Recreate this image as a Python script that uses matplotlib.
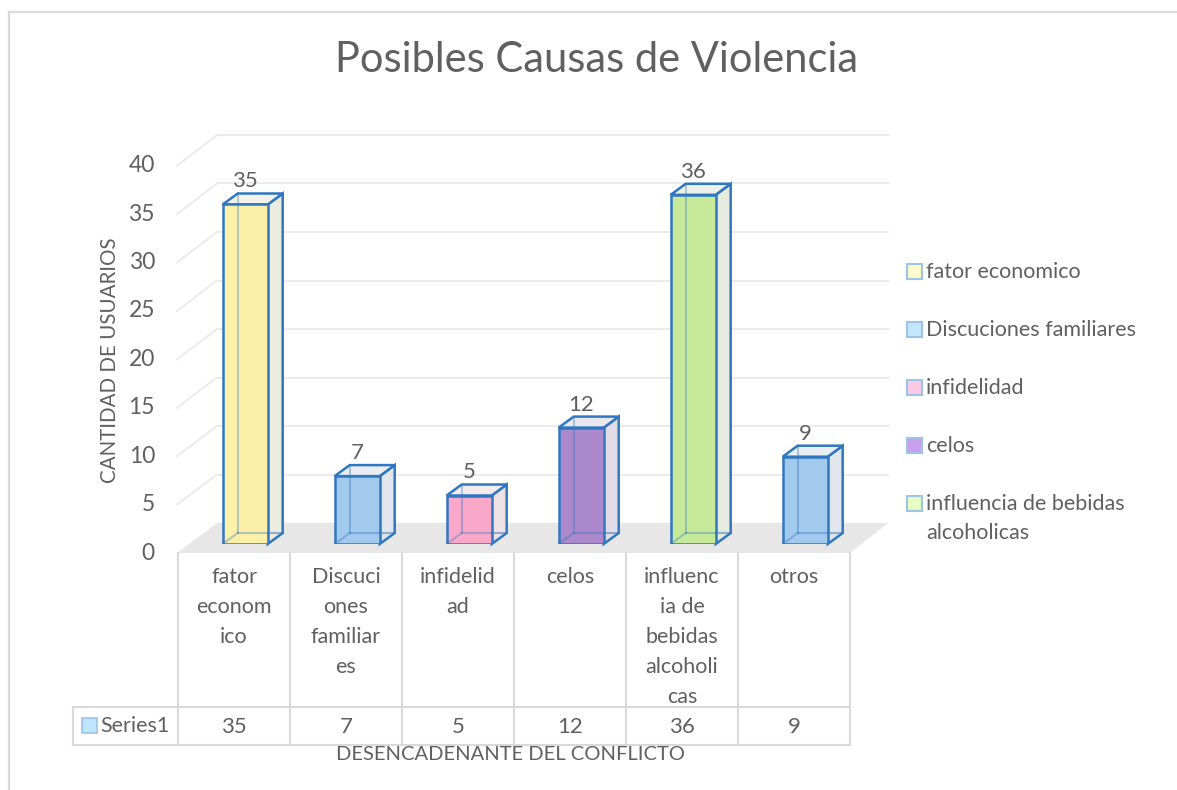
import textwrap
import matplotlib
matplotlib.use('Agg')
import matplotlib.pyplot as plt
import matplotlib.colors as mcolors
from matplotlib.patches import Polygon, Rectangle
from matplotlib.lines import Line2D
from matplotlib.transforms import blended_transform_factory

plt.rcParams['font.family'] = ['Lato', 'DejaVu Sans']

# datos
categorias = ['fator economico', 'Discuciones familiares', 'infidelidad', 'celos',
              'influencia de bebidas alcoholicas', 'otros']
etiquetas_tabla = ['fator\neconom\nico', 'Discuci\nones\nfamiliar\nes', 'infidelid\nad', 'celos',
                   'influenc\nia de\nbebidas\nalcoholi\ncas', 'otros']
valores = [35, 7, 5, 12, 36, 9]
nombre_serie = 'Series1'
yticks = [0, 5, 10, 15, 20, 25, 30, 35, 40]

colores = ['#fbf0a8', '#a2c9ee', '#f9a8ca', '#ac88cc', '#c7ea9a', '#a2c9ee']
colores_leyenda = ['#fffbc9', '#c3e7fc', '#fcc9e7', '#c9a0ee', '#e8fbc1']
borde = '#2f77c0'
gris_txt = '#606060'
gris_lin = '#d9d9d9'

W, H = 1177, 790
fig = plt.figure(figsize=(W / 100, H / 100), dpi=100)
fx = lambda px: px / W
fy = lambda py: 1 - py / H

# marco del grafico
fig.add_artist(Line2D([fx(9), 1], [fy(12), fy(12)], transform=fig.transFigure, color=gris_lin, lw=1.6))
fig.add_artist(Line2D([fx(9), fx(9)], [fy(12), 0], transform=fig.transFigure, color=gris_lin, lw=1.6))

ax = fig.add_axes([fx(178), fy(544), (850 - 178) / W, 388 / H])
ax.set_xlim(-0.6, 5.4)
ax.set_ylim(0, 40)
ax.axis('off')

sx = (850 - 178) / 6.0   # px por unidad x
sy = 388 / 40.0          # px por unidad y
dx = lambda px: px / sx
dy = lambda px: px / sy

# piso
piso = Polygon([(-0.6 + dx(-1), dy(-9)), (5.4, dy(-9)), (5.4 + dx(38), dy(21)), (-0.6 + dx(39), dy(21))],
               closed=True, fc='#e7e7e7', ec='none', zorder=1, clip_on=False)
ax.add_patch(piso)

# lineas de cuadricula (pared del fondo y pared izquierda)
for v in yticks[1:]:
    ax.plot([-0.6 + dx(39), 5.4 + dx(38)], [v + dy(21)] * 2, color='#ebebeb', lw=1.4, zorder=0.5, clip_on=False)
    ax.plot([-0.6 + dx(-1), -0.6 + dx(39)], [v * 0.998 + dy(-9), v + dy(21)], color='#ebebeb', lw=1.4,
            zorder=0.5, clip_on=False)
for v in yticks:
    ax.text(-0.6 + dx(-23), v * 0.998 + dy(-9), str(v), ha='right', va='center', fontsize=16.5, color=gris_txt)

# barras 3D
hw = dx(22.5)
px_d, py_d = dx(15), dy(11)


def mezcla(c, f=0.15, base='#ebebeb'):
    a = mcolors.to_rgb(c)
    b = mcolors.to_rgb(base)
    return tuple(f * x + (1 - f) * y for x, y in zip(a, b))


ax.bar(range(len(valores)), valores, width=2 * hw, color=colores, edgecolor=borde, linewidth=1.8, zorder=5)
for i, v in enumerate(valores):
    lado = Polygon([(i + hw, 0), (i + hw + px_d, py_d), (i + hw + px_d, v + py_d), (i + hw, v)],
                   closed=True, fc=mezcla(colores[i]), ec=borde, lw=1.8, zorder=4, clip_on=False)
    tapa = Polygon([(i - hw, v), (i + hw, v), (i + hw + px_d, v + py_d), (i - hw + px_d, v + py_d)],
                   closed=True, fc=mezcla(colores[i], 0.1, '#f2f2f2'), ec=borde, lw=1.8, zorder=4, clip_on=False)
    ax.add_patch(lado)
    ax.add_patch(tapa)
    # aristas traseras vistas a traves de la cara
    bx = i - hw + px_d
    ax.plot([bx, bx], [py_d, v + py_d], color=borde, lw=1.5, alpha=0.35, zorder=6)
    ax.plot([i - hw, bx], [0, py_d], color=borde, lw=1.5, alpha=0.35, zorder=6)
    ax.plot([bx, i + hw], [py_d, py_d], color=borde, lw=1.5, alpha=0.35, zorder=6)
    ax.plot([i + hw, i + hw + px_d], [py_d, py_d], color=borde, lw=1.5, alpha=0.5, zorder=6)
    ax.text(i, v + py_d + dy(12), str(v), ha='center', va='center', fontsize=16, color=gris_txt)

# tabla de datos
tr = blended_transform_factory(ax.transData, fig.transFigure)
for k in range(len(valores) + 1):
    ax.add_line(Line2D([k - 0.6] * 2, [fy(553), fy(745)], transform=tr, color=gris_lin, lw=1.5, clip_on=False))
for yy in (707, 745):
    fig.add_artist(Line2D([fx(73), fx(850)], [fy(yy)] * 2, transform=fig.transFigure, color=gris_lin, lw=1.5))
fig.add_artist(Line2D([fx(73)] * 2, [fy(707), fy(745)], transform=fig.transFigure, color=gris_lin, lw=1.5))

for i, (lab, v) in enumerate(zip(etiquetas_tabla, valores)):
    ax.text(i - 0.1, fy(567), lab, transform=tr, ha='center', va='top', fontsize=15.5,
            linespacing=1.63, color=gris_txt)
    ax.text(i - 0.1, fy(727), str(v), transform=tr, ha='center', va='center', fontsize=16, color=gris_txt)

fig.add_artist(Rectangle((fx(82), fy(733)), 15 / W, 15 / H, transform=fig.transFigure,
                         fc='#bde5fc', ec='#9dc3e6', lw=1.2))
fig.text(fx(100), fy(726), nombre_serie, ha='left', va='center', fontsize=15.5, color=gris_txt)

# titulos
fig.text(fx(597), fy(60), 'Posibles Causas de Violencia', ha='center', va='center', fontsize=30, color=gris_txt)
fig.text(fx(110), fy(360), 'CANTIDAD DE USUARIOS', rotation=90, ha='center', va='center',
         fontsize=14.8, color=gris_txt)
fig.text(fx(510), fy(755), 'DESENCADENANTE DEL CONFLICTO', ha='center', va='center',
         fontsize=14.5, color=gris_txt)

# leyenda
for j, nombre in enumerate(categorias[:5]):
    yc = 271 + 58 * j
    fig.add_artist(Rectangle((fx(907), fy(yc + 7.5)), 15 / W, 15 / H, transform=fig.transFigure,
                             fc=colores_leyenda[j], ec='#9dc3e6', lw=1.5))
    fig.text(fx(926), fy(yc - 9), textwrap.fill(nombre, 22), ha='left', va='top', fontsize=15.5,
             linespacing=1.55, color=gris_txt)

fig.savefig('out.png', dpi=100, facecolor='white')
